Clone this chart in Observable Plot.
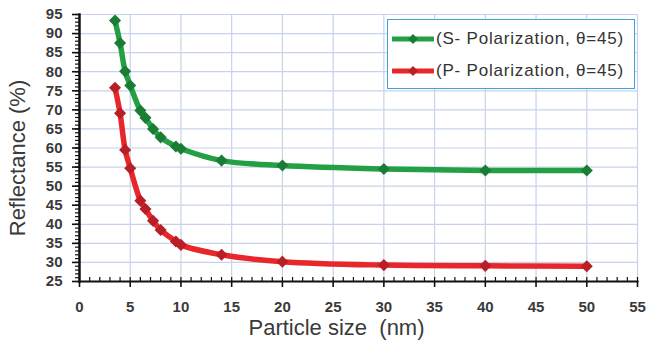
<!DOCTYPE html>
<html>
<head>
<meta charset="utf-8">
<script src="https://cdn.jsdelivr.net/npm/d3@7"></script>
<script src="https://cdn.jsdelivr.net/npm/@observablehq/plot@0.6"></script>
<style>
  html, body { margin: 0; padding: 0; background: #fff; }
  #wrap { position: relative; width: 649px; height: 341px; font-family: "Liberation Sans", Arial, sans-serif; }
  #legend { position: absolute; left: 387px; top: 19px; width: 246px; height: 68px; border: 1.5px solid #3fa3db; background: #fff; }
  .item { position: absolute; left: 4px; height: 20px; display: flex; align-items: center; font-size: 17px; color: #333; letter-spacing: 0.8px; white-space: nowrap; }
  .item svg { margin-right: 2px; }
</style>
</head>
<body>
<div id="wrap"></div>
<script>
// ---- data ----
const sizesS = [3.5, 4, 4.5, 5, 6, 6.5, 7.25, 8, 9.5, 10, 14, 20, 30, 40, 50];
const reflS  = [93.4, 87.5, 80.1, 76.4, 69.8, 67.9, 65.0, 62.8, 60.4, 59.8, 56.7, 55.4, 54.5, 54.1, 54.1];
const sizesP = [3.5, 4, 4.5, 5, 6, 6.5, 7.25, 8, 9.5, 10, 14, 20, 30, 40, 50];
const reflP  = [75.8, 69.1, 59.5, 54.7, 46.2, 44.0, 40.9, 38.5, 35.5, 34.6, 32.0, 30.2, 29.3, 29.1, 29.0];
const seriesNames = ["(S- Polarization, \u03B8=45)", "(P- Polarization, \u03B8=45)"];
const lineColors = ["#22a043", "#e8272b"];
const markColors = ["#1b7d35", "#b91f27"];
const xTicks = [0, 5, 10, 15, 20, 25, 30, 35, 40, 45, 50, 55];
const yTicks = [25, 30, 35, 40, 45, 50, 55, 60, 65, 70, 75, 80, 85, 90, 95];
const xLabel = "Particle size  (nm)";
const yLabel = "Reflectance (%)";

const S = sizesS.map((x, i) => ({x, y: reflS[i]}));
const P = sizesP.map((x, i) => ({x, y: reflP[i]}));
const minorX = d3.range(0, 56, 1);
const minorY = d3.range(25, 96, 1);
const grid = "#c6d3eb";

const chart = Plot.plot({
  width: 649, height: 341,
  marginLeft: 79, marginRight: 12, marginTop: 14, marginBottom: 60,
  style: {fontFamily: "'Liberation Sans', Arial, sans-serif", background: "#fff"},
  x: {domain: [0, 55]},
  y: {domain: [25, 95]},
  marks: [
    Plot.gridX(xTicks.filter(d => d > 0), {stroke: grid, strokeOpacity: 1, strokeWidth: 1.2}),
    Plot.gridY(yTicks.filter(d => d > 25), {stroke: grid, strokeOpacity: 1, strokeWidth: 1.2}),
    Plot.axisY(minorY, {tickSize: 4, text: null, label: null, stroke: "#111", strokeWidth: 1.2}),
    Plot.axisY(yTicks, {tickSize: 7, tickPadding: 10, fontSize: 15, fontWeight: "bold", fill: "#3a3a3a", stroke: "#111", strokeWidth: 1.6, label: null}),
    Plot.axisX(minorX, {tickSize: -4, text: null, label: null, stroke: "#111", strokeWidth: 1.2}),
    Plot.axisX(xTicks, {tickSize: 6, tickPadding: 14, fontSize: 15, fontWeight: "bold", fill: "#3a3a3a", stroke: "#111", strokeWidth: 1.6, label: null}),
    Plot.frame({anchor: "left", stroke: "#111", strokeWidth: 2.5}),
    Plot.frame({anchor: "bottom", stroke: "#111", strokeWidth: 2}),
    Plot.line(S, {x: "x", y: "y", stroke: lineColors[0], strokeWidth: 5.5, curve: "catmull-rom"}),
    Plot.line(P, {x: "x", y: "y", stroke: lineColors[1], strokeWidth: 5.5, curve: "catmull-rom"}),
    Plot.dot(S, {x: "x", y: "y", symbol: "diamond2", r: 4.5, fill: markColors[0], stroke: markColors[0]}),
    Plot.dot(P, {x: "x", y: "y", symbol: "diamond2", r: 4.5, fill: markColors[1], stroke: markColors[1]}),
    Plot.text([xLabel], {text: d => d, frameAnchor: "bottom", textAnchor: "middle", lineAnchor: "middle", dx: -22, dy: 46, fontSize: 22, fill: "#3a3a3a", letterSpacing: "0.3px"}),
    Plot.text([yLabel], {text: d => d, frameAnchor: "left", textAnchor: "middle", lineAnchor: "middle", rotate: -90, dx: -62, dy: 10, fontSize: 22, fill: "#3a3a3a", letterSpacing: "0.2px"})
  ]
});

const wrap = document.getElementById("wrap");
wrap.appendChild(chart);

const legend = document.createElement("div");
legend.id = "legend";
seriesNames.forEach((name, i) => {
  const it = document.createElement("div");
  it.className = "item";
  it.style.top = (i === 0 ? 9 : 41) + "px";
  it.innerHTML = `<svg width="42" height="14"><line x1="1" y1="7" x2="41" y2="7" stroke="${lineColors[i]}" stroke-width="5" stroke-linecap="round"/><path d="M21 2 L26 7 L21 12 L16 7 Z" fill="${markColors[i]}"/></svg><span>${name}</span>`;
  legend.appendChild(it);
});
wrap.appendChild(legend);
</script>
</body>
</html>
